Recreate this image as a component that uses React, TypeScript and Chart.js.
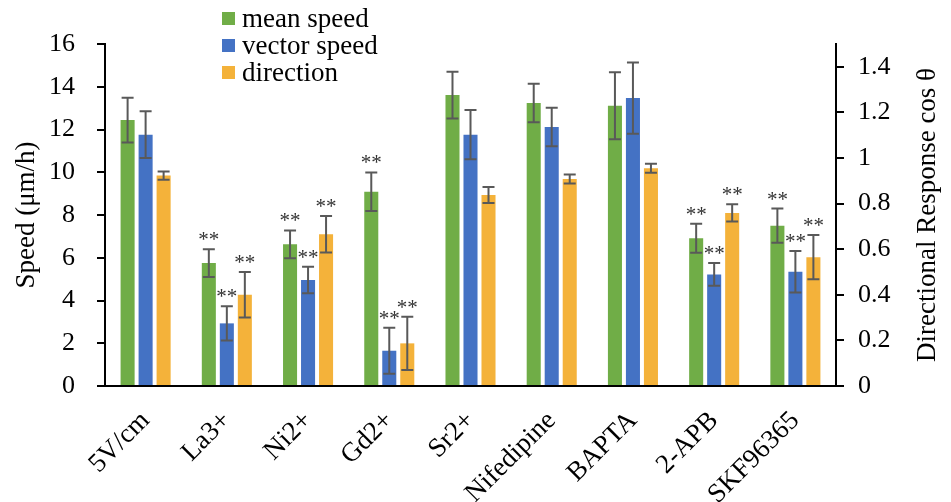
import React, { useEffect, useRef } from "react";
import { Chart, registerables } from "chart.js";

Chart.register(...registerables);

const categories = ["5V/cm", "La3+", "Ni2+", "Gd2+", "Sr2+", "Nifedipine", "BAPTA", "2-APB", "SKF96365"];
const meanSpeed = [12.44, 5.75, 6.63, 9.09, 13.61, 13.24, 13.11, 6.91, 7.5];
const meanSpeedErr = [1.05, 0.65, 0.65, 0.9, 1.09, 0.9, 1.57, 0.68, 0.8];
const vectorSpeed = [11.76, 2.93, 4.96, 1.65, 11.76, 12.12, 13.47, 5.22, 5.35];
const vectorSpeedErr = [1.09, 0.8, 0.62, 1.08, 1.15, 0.9, 1.67, 0.53, 0.97];
const direction = [0.923, 0.4, 0.666, 0.187, 0.838, 0.908, 0.955, 0.759, 0.565];
const directionErr = [0.018, 0.1, 0.08, 0.117, 0.035, 0.02, 0.02, 0.038, 0.097];
const significant = [false, true, true, true, false, false, false, true, true];

const FONT = "'Liberation Serif', 'Times New Roman', serif";
const GREEN = "#70AD47";
const BLUE = "#4472C4";
const ORANGE = "#F4B23A";
const ERR_COLOR = "#595959";

const errorsByDataset = [meanSpeedErr, vectorSpeedErr, directionErr];

const overlayPlugin = {
  id: "overlay",
  afterDatasetsDraw(chart: any) {
    const ctx = chart.ctx;
    const area = chart.chartArea;
    ctx.save();
    chart.data.datasets.forEach((ds: any, di: number) => {
      const meta = chart.getDatasetMeta(di);
      const scale = chart.scales[ds.yAxisID];
      const errs = errorsByDataset[di];
      meta.data.forEach((el: any, j: number) => {
        const v = ds.data[j];
        const e = errs[j];
        const x = el.x;
        const yTop = scale.getPixelForValue(v + e);
        const yBot = scale.getPixelForValue(v - e);
        ctx.strokeStyle = ERR_COLOR;
        ctx.lineWidth = 2;
        ctx.beginPath();
        ctx.moveTo(x, yTop);
        ctx.lineTo(x, yBot);
        ctx.moveTo(x - 6, yTop);
        ctx.lineTo(x + 6, yTop);
        ctx.moveTo(x - 6, yBot);
        ctx.lineTo(x + 6, yBot);
        ctx.stroke();
        if (significant[j]) {
          ctx.fillStyle = "#333333";
          ctx.font = `21px ${FONT}`;
          ctx.textAlign = "center";
          ctx.textBaseline = "alphabetic";
          ctx.fillText("**", x, yTop - 3);
        }
      });
    });
    ctx.strokeStyle = "#000";
    ctx.lineWidth = 2;
    ctx.beginPath();
    ctx.moveTo(area.left - 8, area.bottom);
    ctx.lineTo(area.right + 8, area.bottom);
    ctx.stroke();
    ctx.restore();
  },
  afterDraw(chart: any) {
    const ctx = chart.ctx;
    const area = chart.chartArea;
    ctx.save();
    chart.data.datasets.forEach((ds: any, i: number) => {
      const cy = 18.5 + i * 27;
      const sx = area.left + 117;
      ctx.fillStyle = ds.backgroundColor;
      ctx.fillRect(sx, cy - 6.5, 13, 13);
      ctx.fillStyle = "#000";
      ctx.font = `27px ${FONT}`;
      ctx.textAlign = "left";
      ctx.textBaseline = "middle";
      ctx.fillText(ds.label, sx + 20, cy + 1);
    });
    ctx.translate(928, (area.top + area.bottom) / 2);
    ctx.rotate(-Math.PI / 2);
    ctx.fillStyle = "#000";
    ctx.font = `27px ${FONT}`;
    ctx.textAlign = "center";
    ctx.textBaseline = "middle";
    ctx.fillText("Directional Response cos \u03B8", 0, 0);
    ctx.restore();
  },
};

export default function App() {
  const ref = useRef<HTMLCanvasElement | null>(null);
  useEffect(() => {
    if (!ref.current) return;
    const chart = new Chart(ref.current, {
      type: "bar",
      data: {
        labels: categories,
        datasets: [
          { label: "mean speed", data: meanSpeed, backgroundColor: GREEN, yAxisID: "y", categoryPercentage: 0.665, barPercentage: 0.78 },
          { label: "vector speed", data: vectorSpeed, backgroundColor: BLUE, yAxisID: "y", categoryPercentage: 0.665, barPercentage: 0.78 },
          { label: "direction", data: direction, backgroundColor: ORANGE, yAxisID: "y1", categoryPercentage: 0.665, barPercentage: 0.78 },
        ],
      },
      options: {
        responsive: false,
        animation: false,
        layout: { padding: { top: 44, left: 0, right: 0, bottom: 0 } },
        plugins: { legend: { display: false }, tooltip: { enabled: false } },
        scales: {
          x: {
            type: "category",
            grid: { display: false, drawTicks: false },
            border: { display: false },
            ticks: {
              font: { family: FONT, size: 27 },
              color: "#000",
              maxRotation: 45,
              minRotation: 45,
              padding: 19,
              labelOffset: 0,
              autoSkip: false,
            },
            afterFit(scale: any) {
              scale.height = 116;
            },
          },
          y: {
            type: "linear",
            position: "left",
            min: 0,
            max: 16,
            ticks: { stepSize: 2, font: { family: FONT, size: 26 }, color: "#000", padding: 22 },
            grid: { drawOnChartArea: false, drawTicks: true, tickLength: 8, color: "#000", lineWidth: 2 },
            border: { display: true, color: "#000", width: 2 },
            title: {
              display: true,
              text: "Speed (\u03BCm/h)",
              font: { family: FONT, size: 27 },
              color: "#000",
              padding: { top: 11, bottom: 0 },
            },
            afterFit(scale: any) {
              scale.width = 105;
            },
          },
          y1: {
            type: "linear",
            position: "right",
            min: 0,
            max: 1.5,
            ticks: {
              stepSize: 0.2,
              includeBounds: false,
              font: { family: FONT, size: 26 },
              color: "#000",
              padding: 14,
              callback: (v: any) => String(Number(Number(v).toFixed(1))),
            },
            grid: { drawOnChartArea: false, drawTicks: true, tickLength: 8, color: "#000", lineWidth: 2 },
            border: { display: true, color: "#000", width: 2 },
            afterFit(scale: any) {
              scale.width = 115;
            },
          },
        },
      },
      plugins: [overlayPlugin],
    } as any);
    return () => chart.destroy();
  }, []);
  return (
    <div style={{ position: "fixed", left: 0, top: 0, width: 951, height: 502, background: "#fff" }}>
      <canvas ref={ref} width={951} height={502} style={{ display: "block" }} />
    </div>
  );
}
